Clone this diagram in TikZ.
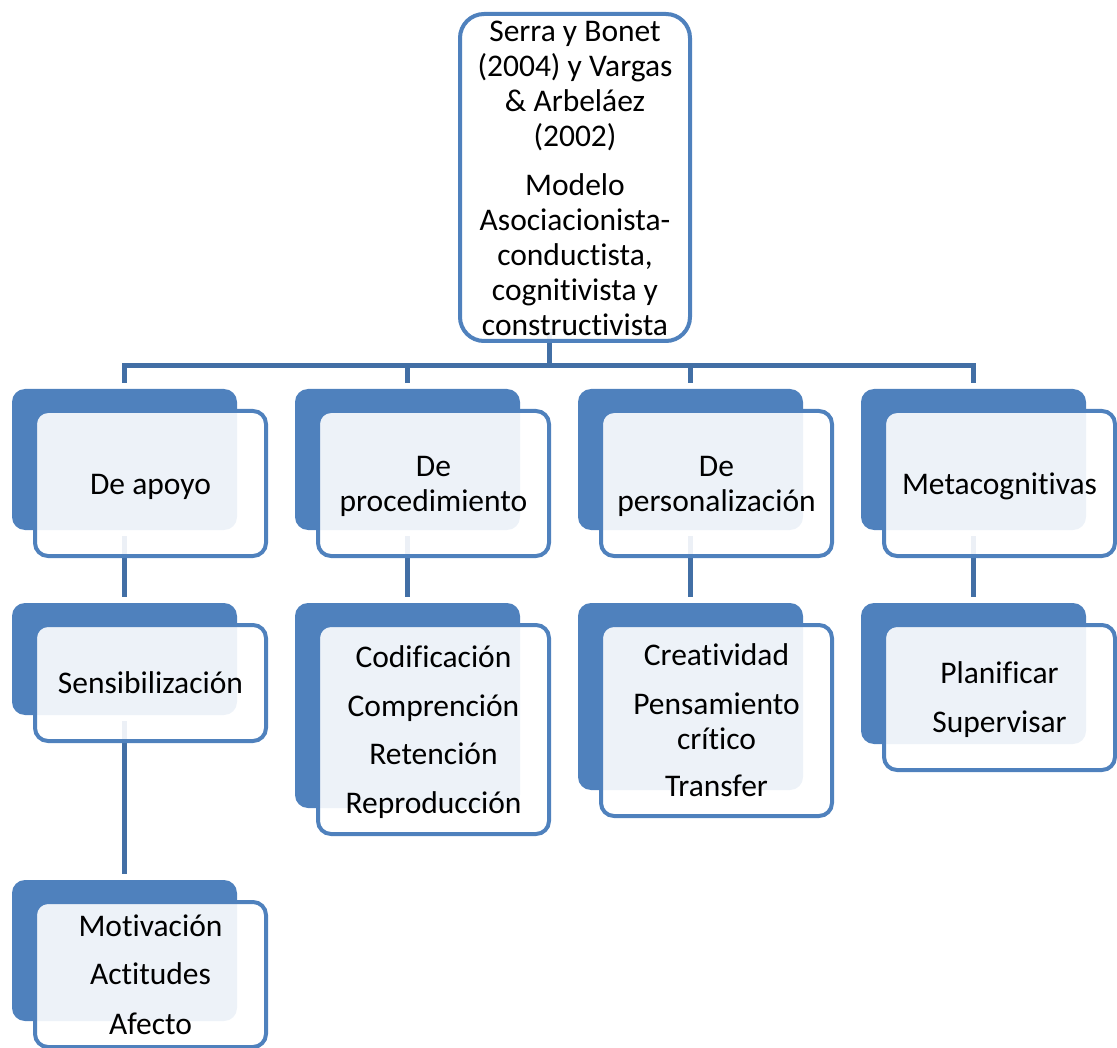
\documentclass[tikz,border=0pt]{standalone}
\usepackage{fontspec}
\setmainfont{Carlito}[Ligatures={NoCommon,NoContextual,NoRequired},RawFeature={-liga;-clig;-calt;-dlig}]
\usetikzlibrary{calc}
\definecolor{accentblue}{RGB}{79,129,189}
\definecolor{linkblue}{RGB}{66,111,165}
\begin{document}
\begin{tikzpicture}[x=1pt,y=-1pt,
  backbox/.style={rectangle, fill=accentblue, rounded corners=13pt,
    minimum width=225pt, inner sep=0pt, outer sep=0pt},
  frontbox/.style={rectangle, draw=accentblue, line width=4pt,
    fill=white, fill opacity=0.9,
    rounded corners=13pt, minimum width=231pt, inner sep=0pt, outer sep=0pt},
  topbox/.style={frontbox, rounded corners=24pt, minimum width=230pt, minimum height=327pt},
  txt/.style={align=center, text=black, inner sep=0pt,
    font=\fontsize{31.5}{35}\selectfont},
  conn/.style={draw=linkblue, line width=5pt},
  gap/.style={shorten <=6pt, shorten >=6pt}]
\useasboundingbox (0,0) rectangle (1117,1048);

% back tiles
\node[backbox, minimum height=141pt] (b1) at (124.5,459.5) {};
\node[backbox, minimum height=141pt] (b2) at (407.5,459.5) {};
\node[backbox, minimum height=141pt] (b3) at (690.5,459.5) {};
\node[backbox, minimum height=141pt] (b4) at (973.5,459.5) {};
\node[backbox, minimum height=112pt] (c1) at (124.5,659) {};
\node[backbox, minimum height=205pt] (c2) at (407.5,705.5) {};
\node[backbox, minimum height=187pt] (c3) at (690.5,696.5) {};
\node[backbox, minimum height=141pt] (c4) at (973.5,673.5) {};
\node[backbox, minimum height=141pt] (d1) at (124.5,950.5) {};

% connectors
\coordinate (hub) at (549,366);
\coordinate (topfoot) at (575,332);
\draw[conn] (topfoot -| hub) -- (hub);
\draw[conn, shorten >=6pt] (hub) -| (b1.north);
\draw[conn, shorten >=6pt] (hub) -| (b2.north);
\draw[conn, shorten >=6pt] (hub) -| (b3.north);
\draw[conn, shorten >=6pt] (hub) -| (b4.north);
\draw[conn, gap] (b1.south) -- (c1.north);
\draw[conn, gap] (b2.south) -- (c2.north);
\draw[conn, gap] (b3.south) -- (c3.north);
\draw[conn, gap] (b4.south) -- (c4.north);
\draw[conn, gap] (c1.south) -- (d1.north);

% front panels
\node[topbox] (top) at (575,177.5) {};
\node[frontbox, minimum height=145pt] (f1) at ($(b1)+(26,24)$) {};
\node[frontbox, minimum height=145pt] (f2) at ($(b2)+(26,24)$) {};
\node[frontbox, minimum height=145pt] (f3) at ($(b3)+(26,24)$) {};
\node[frontbox, minimum height=145pt] (f4) at ($(b4)+(26,24)$) {};
\node[frontbox, minimum height=116pt] (g1) at ($(c1)+(26,24)$) {};
\node[frontbox, minimum height=209pt] (g2) at ($(c2)+(26,24)$) {};
\node[frontbox, minimum height=191pt] (g3) at ($(c3)+(26,24)$) {};
\node[frontbox, minimum height=145pt] (g4) at ($(c4)+(26,24)$) {};
\node[frontbox, minimum height=145pt] (h1) at ($(d1)+(26,24)$) {};

% panel texts
\node[txt] (ttop) at ([yshift=-1pt]top.center) {Serra y Bonet\\(2004) y Vargas\\\& Arbeláez\\(2002)\\[14pt]Modelo\\Asociacionista-\\conductista,\\cognitivista y\\constructivista};
\node[txt] (tf1) at ([yshift=-3pt]f1.center) {De apoyo};
\node[txt] (tf2) at ([yshift=-3pt]f2.center) {De\\procedimiento};
\node[txt] (tf3) at ([yshift=-3pt]f3.center) {De\\personalización};
\node[txt] (tf4) at ([yshift=-3pt]f4.center) {Metacognitivas};
\node[txt] (tg1) at (g1.center) {Sensibilización};
\node[txt] (tg2) at ([yshift=-3pt]g2.center) {Codificación\\[14pt]Comprención\\[13pt]Retención\\[14pt]Reproducción};
\node[txt] (tg3) at (g3.center) {Creatividad\\[14pt]Pensamiento\\crítico\\[12pt]Transfer};
\node[txt] (tg4) at ([yshift=-2pt]g4.center) {Planificar\\[14pt]Supervisar};
\node[txt] (th1) at (h1.center) {Motivación\\[13pt]Actitudes\\[15pt]Afecto};
\end{tikzpicture}
\end{document}
